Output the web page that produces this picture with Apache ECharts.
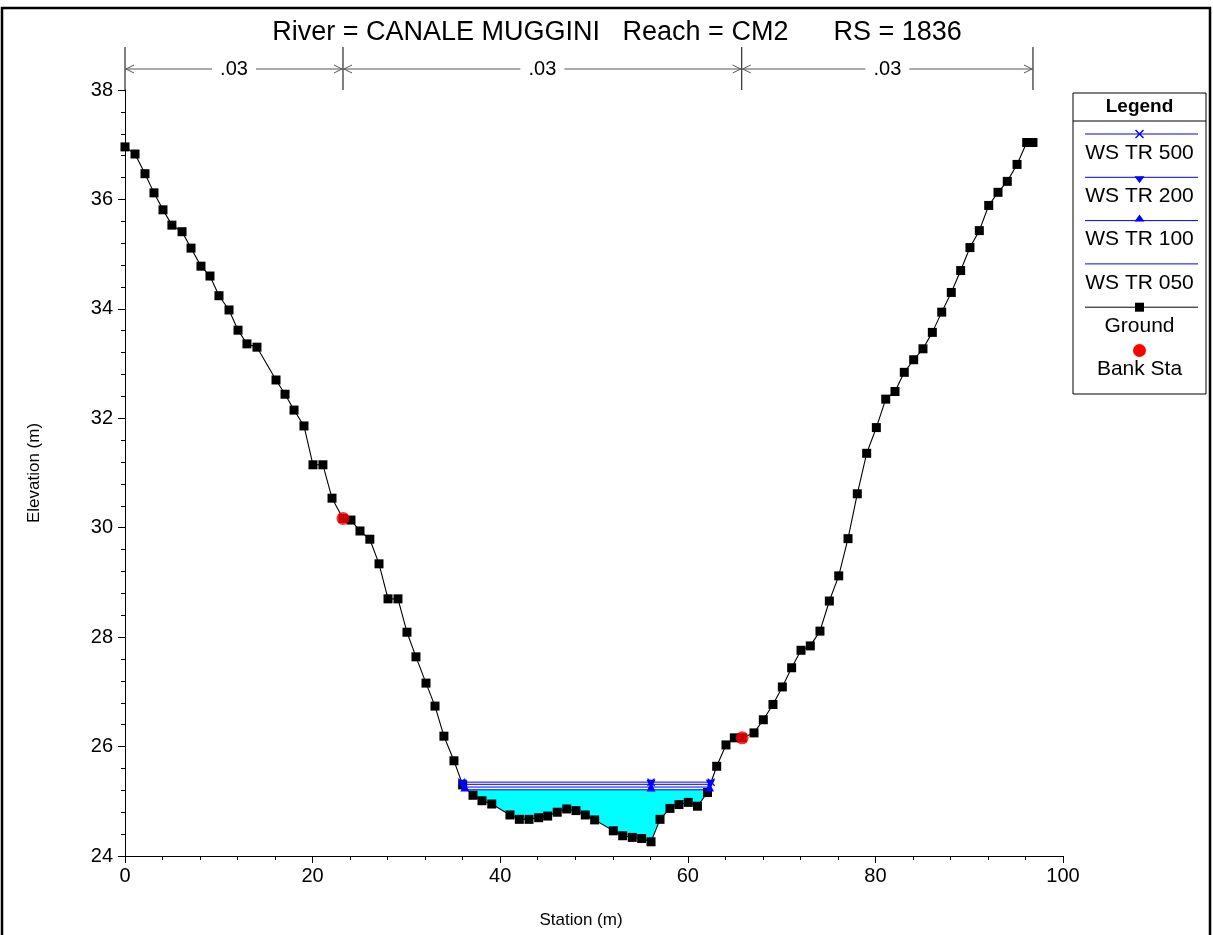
<!DOCTYPE html>
<html><head><meta charset="utf-8">
<script src="https://cdn.jsdelivr.net/npm/echarts@6/dist/echarts.min.js"></script>
<style>html,body{margin:0;padding:0;background:#fff}#c{width:1213px;height:935px}</style>
</head><body><div id="c"></div>
<script>
// ---------- data ----------
const TITLE = 'River = CANALE MUGGINI   Reach = CM2      RS = 1836';
const STATIONS = [0,1.07,2.13,3.09,4.05,5.0,6.08,7.04,8.1,9.06,10.02,11.09,12.05,13.0,14.07,16.1,17.06,18.02,19.08,20.04,21.1,22.07,23.24,24.09,25.05,26.1,27.08,28.04,29.1,30.06,31.02,32.09,33.05,34.0,35.07,36.0,37.1,38.06,39.1,41.04,42.04,43.07,44.1,45.06,46.08,47.09,48.08,49.07,50.07,52.06,53.06,54.08,55.08,56.08,57.04,58.1,59.06,60.05,61.03,62.1,63.08,64.07,64.96,65.8,67.06,68.05,69.08,70.08,71.07,72.07,73.06,74.09,75.09,76.09,77.08,78.07,79.07,80.1,81.1,82.09,83.08,84.08,85.07,86.07,87.07,88.09,89.09,90.08,91.08,92.08,93.07,94.06,95.1,96.13,96.8];
const ELEVATIONS = [36.96,36.83,36.47,36.12,35.81,35.53,35.41,35.11,34.78,34.6,34.24,33.98,33.61,33.36,33.3,32.7,32.44,32.15,31.86,31.15,31.15,30.54,30.17,30.14,29.94,29.79,29.34,28.7,28.7,28.09,27.64,27.16,26.74,26.19,25.74,25.3,25.11,25.01,24.95,24.75,24.67,24.67,24.7,24.73,24.8,24.86,24.83,24.75,24.66,24.46,24.37,24.34,24.32,24.26,24.67,24.87,24.94,24.98,24.91,25.16,25.64,26.03,26.16,26.16,26.25,26.49,26.77,27.09,27.44,27.76,27.84,28.11,28.66,29.12,29.8,30.62,31.36,31.83,32.35,32.49,32.84,33.07,33.27,33.57,33.94,34.3,34.7,35.12,35.43,35.89,36.13,36.33,36.64,37.04,37.04];
const BANK_STATIONS = [23.24, 65.8];
const BANK_ELEVATIONS = [30.17, 26.16];
const WS_NAMES = ['WS TR 500','WS TR 200','WS TR 100','WS TR 050'];
const WS_LEVELS = [25.35, 25.31, 25.26, 25.21];
const WS_MARKER_STATION = 56.08;
const N_BREAKS = [0, 23.24, 65.75, 96.8];
const N_VALUES = ['.03', '.03', '.03'];
const X_MIN = 0, X_MAX = 100, X_STEP = 20;
const Y_MIN = 24, Y_MAX = 38, Y_STEP = 2;

// ---------- helpers ----------
const FONT = '"Liberation Sans", Arial, sans-serif';
const BLUE = '#0000ff';
const XMARK = 'path://M0,1.2L1.2,0L5,3.8L8.8,0L10,1.2L6.2,5L10,8.8L8.8,10L5,6.2L1.2,10L0,8.8L3.8,5Z';
const WS_SYMBOLS = [XMARK, 'triangle', 'triangle', 'none'];
const WS_ROT = [0, 180, 0, 0];

function wetEdges(level) {
  let t = 0;
  for (let i = 1; i < ELEVATIONS.length; i++) if (ELEVATIONS[i] < ELEVATIONS[t]) t = i;
  let l = t; while (l > 0 && ELEVATIONS[l - 1] < level) l--;
  let r = t; while (r < ELEVATIONS.length - 1 && ELEVATIONS[r + 1] < level) r++;
  const interp = (a, b) => STATIONS[a] + (level - ELEVATIONS[a]) * (STATIONS[b] - STATIONS[a]) / (ELEVATIONS[b] - ELEVATIONS[a]);
  return { xl: interp(l, l - 1), xr: interp(r, r + 1), l, r };
}

const groundData = STATIONS.map((s, i) => [s, ELEVATIONS[i]]);
const bankData = BANK_STATIONS.map((s, i) => [s, BANK_ELEVATIONS[i]]);

const series = [];
// water fill under lowest profile
const lowIdx = WS_LEVELS.indexOf(Math.min(...WS_LEVELS));
const lowEdges = wetEdges(WS_LEVELS[lowIdx]);
series.push({
  type: 'custom', z: 1, silent: true,
  data: [[0, 0]],
  renderItem: function (params, api) {
    const L = WS_LEVELS[lowIdx];
    const pts = [api.coord([lowEdges.xl, L])];
    for (let i = lowEdges.l; i <= lowEdges.r; i++) pts.push(api.coord([STATIONS[i], ELEVATIONS[i]]));
    pts.push(api.coord([lowEdges.xr, L]));
    return { type: 'polygon', shape: { points: pts }, style: { fill: '#00ffff', stroke: null } };
  }
});
WS_LEVELS.forEach((L, k) => {
  const e = wetEdges(L);
  series.push({
    type: 'line', name: WS_NAMES[k], z: 4,
    data: [[e.xl, L], [WS_MARKER_STATION, L], [e.xr, L]],
    lineStyle: { color: BLUE, width: 1 },
    itemStyle: { color: BLUE },
    symbol: WS_SYMBOLS[k], symbolSize: k === 0 ? 8 : 9, symbolRotate: WS_ROT[k],
    showSymbol: WS_SYMBOLS[k] !== 'none',
    animation: false, silent: true
  });
});
series.push({
  type: 'line', name: 'Ground', z: 3,
  data: groundData,
  lineStyle: { color: '#000', width: 1.1 },
  itemStyle: { color: '#000' },
  symbol: 'rect', symbolSize: 9, showSymbol: true,
  animation: false, silent: true
});
series.push({
  type: 'scatter', name: 'Bank Sta', z: 5,
  data: bankData, symbol: 'circle', symbolSize: 13,
  itemStyle: { color: '#ff0000' }, silent: true, animation: false
});

const axisCommon = {
  axisLine: { show: true, onZero: false, lineStyle: { color: '#000', width: 1 } },
  axisTick: { show: true, inside: false, length: 7, lineStyle: { color: '#000' } },
  minorTick: { show: true, splitNumber: 5, length: 4, lineStyle: { color: '#000' } },
  splitLine: { show: false },
  axisLabel: { color: '#000', fontSize: 20, fontFamily: FONT },
  nameLocation: 'middle',
  nameTextStyle: { color: '#000', fontSize: 17, fontFamily: FONT }
};

const chart = echarts.init(document.getElementById('c'), null, { renderer: 'canvas' });
chart.setOption({
  backgroundColor: '#fff',
  animation: false,
  title: {
    text: TITLE, left: 612, top: 14, textAlign: 'center',
    textStyle: { color: '#000', fontSize: 27, fontWeight: 'normal', fontFamily: FONT }
  },
  grid: { left: 125, right: 150, top: 90, bottom: 79, containLabel: false },
  xAxis: Object.assign({}, axisCommon, {
    type: 'value', min: X_MIN, max: X_MAX, interval: X_STEP,
    name: 'Station (m)', nameGap: 56,
    nameTextStyle: Object.assign({}, axisCommon.nameTextStyle, { padding: [0, 26, 0, 0] }),
    axisLabel: Object.assign({}, axisCommon.axisLabel, { margin: 10 })
  }),
  yAxis: Object.assign({}, axisCommon, {
    type: 'value', min: Y_MIN, max: Y_MAX, interval: Y_STEP,
    name: 'Elevation (m)', nameGap: 82,
    axisLabel: Object.assign({}, axisCommon.axisLabel, { margin: 12 })
  }),
  series: series
});

// ---------- Manning's n annotation, legend and frame ----------
const g = [];
const px = v => chart.convertToPixel({ gridIndex: 0 }, [v, Y_MIN])[0];
const topY = chart.convertToPixel({ gridIndex: 0 }, [0, Y_MAX])[1];
const arrowY = topY - 21, vTop = topY - 43;
N_BREAKS.forEach(b => {
  const x = px(b);
  g.push({ type: 'line', shape: { x1: x, y1: vTop, x2: x, y2: topY }, style: { stroke: '#000', lineWidth: 1 } });
});
const gray = '#555';
for (let i = 0; i < N_VALUES.length; i++) {
  const x1 = px(N_BREAKS[i]), x2 = px(N_BREAKS[i + 1]);
  const mid = (x1 + x2) / 2, half = 22;
  g.push({ type: 'line', shape: { x1: x1, y1: arrowY, x2: mid - half, y2: arrowY }, style: { stroke: gray, lineWidth: 1 } });
  g.push({ type: 'line', shape: { x1: mid + half, y1: arrowY, x2: x2, y2: arrowY }, style: { stroke: gray, lineWidth: 1 } });
  g.push({ type: 'polyline', shape: { points: [[x1 + 9, arrowY - 4], [x1 + 1, arrowY], [x1 + 9, arrowY + 4]] }, style: { stroke: gray, fill: null, lineWidth: 1 } });
  g.push({ type: 'polyline', shape: { points: [[x2 - 9, arrowY - 4], [x2 - 1, arrowY], [x2 - 9, arrowY + 4]] }, style: { stroke: gray, fill: null, lineWidth: 1 } });
  g.push({ type: 'text', x: mid, y: arrowY, style: { text: N_VALUES[i], fill: '#000', font: '20px ' + FONT, textAlign: 'center', textVerticalAlign: 'middle' } });
}

// legend box
const LX1 = 1073, LX2 = 1206, LC = (LX1 + LX2) / 2;
const LTOP = 93, LSEP = 121, LBOT = 394, STEP = 43.3, FIRST = 134;
g.push({ type: 'rect', shape: { x: LX1, y: LTOP, width: LX2 - LX1, height: LBOT - LTOP }, style: { stroke: '#000', fill: '#fff', lineWidth: 1 }, z: 10 });
g.push({ type: 'line', shape: { x1: LX1, y1: LSEP, x2: LX2, y2: LSEP }, style: { stroke: '#000', lineWidth: 1 }, z: 11 });
g.push({ type: 'text', x: LC, y: (LTOP + LSEP) / 2, style: { text: 'Legend', fill: '#000', font: 'bold 19px ' + FONT, textAlign: 'center', textVerticalAlign: 'middle' }, z: 11 });
const legendItems = WS_NAMES.map((n, k) => ({ name: n, kind: 'ws', k: k })).concat([{ name: 'Ground', kind: 'ground' }, { name: 'Bank Sta', kind: 'bank' }]);
legendItems.forEach((it, i) => {
  const ly = FIRST + i * STEP, ty = ly + 19;
  if (it.kind !== 'bank') {
    g.push({ type: 'line', shape: { x1: LX1 + 12, y1: ly, x2: LX2 - 8, y2: ly }, style: { stroke: it.kind === 'ws' ? BLUE : '#000', lineWidth: 1 }, z: 11 });
  }
  if (it.kind === 'ws' && it.k === 0) {
    g.push({ type: 'polyline', shape: { points: [[LC - 4, ly - 4], [LC + 4, ly + 4]] }, style: { stroke: BLUE, lineWidth: 1.4 }, z: 12 });
    g.push({ type: 'polyline', shape: { points: [[LC + 4, ly - 4], [LC - 4, ly + 4]] }, style: { stroke: BLUE, lineWidth: 1.4 }, z: 12 });
  } else if (it.kind === 'ws' && it.k === 1) {
    g.push({ type: 'polygon', shape: { points: [[LC - 5, ly - 1], [LC + 5, ly - 1], [LC, ly + 6]] }, style: { fill: BLUE }, z: 12 });
  } else if (it.kind === 'ws' && it.k === 2) {
    g.push({ type: 'polygon', shape: { points: [[LC - 5, ly + 1], [LC + 5, ly + 1], [LC, ly - 6]] }, style: { fill: BLUE }, z: 12 });
  } else if (it.kind === 'ground') {
    g.push({ type: 'rect', shape: { x: LC - 4.5, y: ly - 4.5, width: 9, height: 9 }, style: { fill: '#000' }, z: 12 });
  } else if (it.kind === 'bank') {
    g.push({ type: 'circle', shape: { cx: LC, cy: ly, r: 6.5 }, style: { fill: '#ff0000' }, z: 12 });
  }
  g.push({ type: 'text', x: LC, y: ty, style: { text: it.name, fill: '#000', font: '21px ' + FONT, textAlign: 'center', textVerticalAlign: 'middle' }, z: 11 });
});
// outer frame
g.push({ type: 'rect', shape: { x: 2, y: 8, width: 1208, height: 940 }, style: { stroke: '#000', fill: null, lineWidth: 2.5 }, z: 20 });
chart.setOption({ graphic: { elements: g } });
</script></body></html>
